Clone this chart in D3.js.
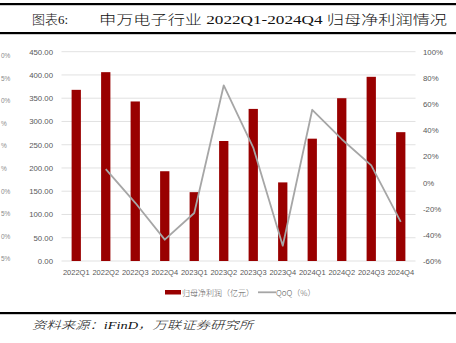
<!DOCTYPE html>
<html><head><meta charset="utf-8">
<script src="https://cdn.jsdelivr.net/npm/d3@7"></script>
<style>
html,body{margin:0;padding:0;background:#fff;overflow:hidden;}
svg{display:block;}
</style></head>
<body>
<script>
const categories = ["2022Q1","2022Q2","2022Q3","2022Q4","2023Q1","2023Q2","2023Q3","2023Q4","2024Q1","2024Q2","2024Q3","2024Q4"];
const profit = [368, 406, 343, 193, 148, 258, 327, 169, 263, 350, 396, 277];
const qoq = [null, 10.3, -15.5, -43.7, -23.3, 74.3, 26.7, -48.3, 55.6, 33.1, 13.1, -30.1];
const leftTicks = [0,50,100,150,200,250,300,350,400,450];
const rightTicks = [-60,-40,-20,0,20,40,60,80,100];
const ghostLabels = ["0%","5%","0%","%","%","%","0%","5%","0%","5%"];
const titleText = "图表6:";
const titleMain = "申万电子行业 2022Q1-2024Q4 归母净利润情况";
const sourceText = "资料来源：iFinD，万联证券研究所";
const legendLabels = ["归母净利润（亿元）", "QoQ（%）"];

const W = 456, H = 343;
const svg = d3.select("body").append("svg").attr("width", W).attr("height", H);

const plotTop = 51.7, plotBottom = 261, plotLeft = 61.5, plotRight = 415.5;
const x = d3.scaleBand().domain(categories).range([plotLeft, plotRight]).paddingInner(0.685).paddingOuter(0.3425);
const yL = d3.scaleLinear().domain([0, 450]).range([plotBottom, plotTop]);
const yR = d3.scaleLinear().domain([-60, 100]).range([plotBottom, plotTop]);

// header lines and title
svg.append("rect").attr("x", 0).attr("y", 3).attr("width", W).attr("height", 2.2).attr("fill", "#000");
svg.append("rect").attr("x", 0).attr("y", 32).attr("width", W).attr("height", 2.2).attr("fill", "#000");
svg.append("text").attr("x", 32).attr("y", 23.5).attr("font-family", "'Liberation Serif','Noto Sans CJK SC',serif")
  .attr("font-size", 13).attr("font-weight", 300).attr("fill", "#111").text(titleText);
svg.append("text").attr("x", 99).attr("y", 23.5).attr("font-family", "'Liberation Serif','Noto Sans CJK SC',serif")
  .attr("font-size", 13).attr("font-weight", 300).attr("fill", "#111").attr("textLength", 348).attr("lengthAdjust","spacingAndGlyphs").text(titleMain);

// cropped labels on far left (fragments as visible)
const ghostX = [0,0,0,0,0,0,0,0,0,0];
svg.append("g").selectAll("text").data(ghostLabels).join("text")
  .attr("x", (d,i) => ghostX[i] + 1).attr("y", (d,i) => 55 + i*22.6 + 3)
  .attr("font-family", "'Liberation Sans',sans-serif")
  .attr("font-size", 6.5).attr("fill", "#8a8a8a").text(d => d);

// gridlines
svg.append("g").selectAll("line").data(leftTicks).join("line")
  .attr("x1", plotLeft).attr("x2", plotRight)
  .attr("y1", d => yL(d)).attr("y2", d => yL(d))
  .attr("stroke", "#d9d9d9").attr("stroke-width", 0.8);

// left axis
const axL = d3.axisLeft(yL).tickValues(leftTicks).tickFormat(d3.format(".2f")).tickSize(0).tickPadding(0);
const gL = svg.append("g").attr("transform", `translate(53,0)`).call(axL);
gL.select(".domain").remove();
gL.selectAll("text").attr("font-family", "'Liberation Sans',sans-serif").attr("font-size", 7.8).attr("fill", "#595959");

// right axis
const axR = d3.axisRight(yR).tickValues(rightTicks).tickFormat(d => d + "%").tickSize(0).tickPadding(0);
const gR = svg.append("g").attr("transform", `translate(423,0)`).call(axR);
gR.select(".domain").remove();
gR.selectAll("text").attr("font-family", "'Liberation Sans',sans-serif").attr("font-size", 7.8).attr("fill", "#595959");

// bars
svg.append("g").selectAll("rect").data(profit).join("rect")
  .attr("x", (d,i) => x(categories[i])).attr("width", x.bandwidth())
  .attr("y", d => yL(d)).attr("height", d => yL(0) - yL(d))
  .attr("fill", "#990000");

// line
const line = d3.line().defined(d => d.v !== null)
  .x(d => x(d.c) + x.bandwidth()/2).y(d => yR(d.v));
svg.append("path").datum(categories.map((c,i) => ({c, v: qoq[i]})))
  .attr("d", line).attr("fill", "none").attr("stroke", "#a6a6a6").attr("stroke-width", 1.8)
  .attr("stroke-linejoin", "round");

// x axis labels
const axX = d3.axisBottom(x).tickSize(0).tickPadding(0);
const gX = svg.append("g").attr("transform", `translate(0,270)`).call(axX);
gX.select(".domain").remove();
gX.selectAll("text").attr("font-family", "'Liberation Sans',sans-serif").attr("font-size", 7.5).attr("fill", "#595959");

// legend
const lg = svg.append("g");
lg.append("rect").attr("x", 165).attr("y", 290).attr("width", 16).attr("height", 4.5).attr("fill", "#990000");
lg.append("text").attr("x", 182).attr("y", 295.5).attr("font-family", "'Noto Sans CJK SC',sans-serif")
  .attr("font-size", 8).attr("font-weight", 300).attr("fill", "#595959").text(legendLabels[0]);
lg.append("line").attr("x1", 258).attr("x2", 276).attr("y1", 292.3).attr("y2", 292.3)
  .attr("stroke", "#a6a6a6").attr("stroke-width", 1.8);
lg.append("text").attr("x", 276).attr("y", 295.5).attr("font-family", "'Noto Sans CJK SC',sans-serif")
  .attr("font-size", 8).attr("font-weight", 300).attr("fill", "#595959").text(legendLabels[1]);

// bottom line and source
svg.append("rect").attr("x", 0).attr("y", 312).attr("width", W).attr("height", 2.2).attr("fill", "#000");
svg.append("text").attr("x", 32).attr("y", 329).attr("font-family", "'Liberation Serif','Noto Sans CJK SC',serif")
  .attr("font-style", "italic").attr("font-weight", 300).attr("font-size", 11).attr("fill", "#111")
  .attr("textLength", 221).attr("lengthAdjust","spacingAndGlyphs").text(sourceText);
</script>
</body></html>
